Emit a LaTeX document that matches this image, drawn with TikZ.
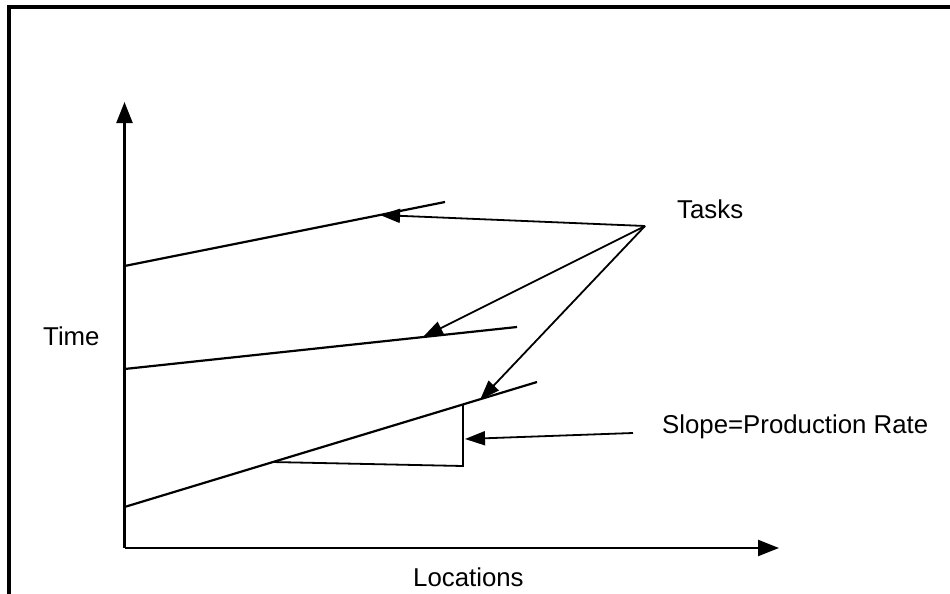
\documentclass[tikz,border=0pt]{standalone}
\usepackage{fontspec}
\setmainfont{Liberation Sans}
\usetikzlibrary{arrows.meta}
\tikzset{
  axisline/.style={line width=2.2pt,-{Triangle[length=21pt,width=16pt]}},
  taskline/.style={line width=2.2pt},
  pointer/.style={line width=1.8pt,-{Triangle[length=20pt,width=14pt]}},
  thinline/.style={line width=1.8pt},
  lbl/.style={inner sep=0pt,anchor=base west,font=\fontsize{25.8}{30}\selectfont},
  frameline/.style={line width=4pt}
}
\begin{document}
\begin{tikzpicture}[x=1pt,y=-1pt]
\useasboundingbox (0,0) rectangle (950,594);
\fill[white] (0,0) rectangle (950,594);
% frame
\coordinate (fa) at (9,600);
\coordinate (fb) at (9,7);
\coordinate (fc) at (955,7);
\draw[frameline] (fa) -- (fb) -- (fc);
% axes
\coordinate (O) at (124.5,548);
\coordinate (ytip) at (124.5,102);
\coordinate (xtip) at (779,548);
\draw[axisline] (O) -- (ytip);
\draw[axisline] (O) -- (xtip);
% task lines
\coordinate (t1a) at (124.5,266);
\coordinate (t1b) at (445,202);
\coordinate (t2a) at (124.5,369);
\coordinate (t2b) at (517,327);
\coordinate (t3a) at (124.5,507);
\coordinate (t3b) at (537,382);
\draw[taskline] (t1a) -- (t1b);
\draw[taskline] (t2a) -- (t2b);
\draw[taskline] (t3a) -- (t3b);
% slope triangle
\coordinate (s1) at (272,462);
\coordinate (s2) at (463,466);
\coordinate (s3) at (463,404.5);
\draw[thinline,line join=miter] (s1) -- (s2) -- (s3);
% pointers
\coordinate (T) at (645,226);
\coordinate (p1) at (380,215);
\coordinate (p2) at (423,337);
\coordinate (p3) at (480,400);
\draw[pointer] (T) -- (p1);
\draw[pointer] (T) -- (p2);
\draw[pointer] (T) -- (p3);
\coordinate (sp) at (633,433);
\coordinate (se) at (465,439);
\draw[pointer] (sp) -- (se);
% labels
\node[lbl] (tasks) at (677,218) {Tasks};
\node[lbl] (time) at (43,345) {Time};
\node[lbl] (slope) at (662,433) {Slope=Production Rate};
\node[lbl] (loc) at (413,586) {Locations};
\end{tikzpicture}
\end{document}
